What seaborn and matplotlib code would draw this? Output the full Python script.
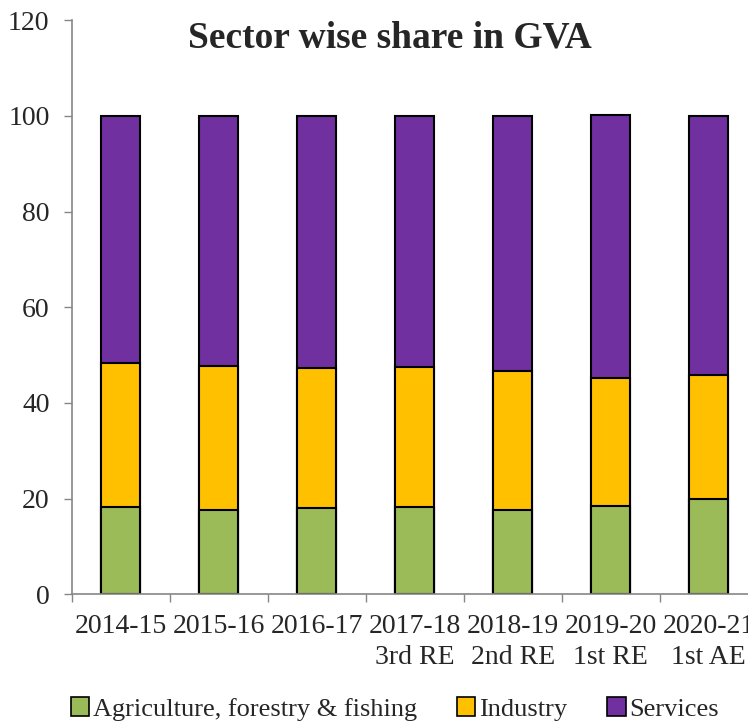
import matplotlib
matplotlib.use("Agg")
import matplotlib.pyplot as plt
import numpy as np
import seaborn as sns
from matplotlib.patches import Patch

years = ["2014-15", "2015-16", "2016-17", "2017-18\n3rd RE", "2018-19\n2nd RE",
         "2019-20\n1st RE", "2020-21\n1st AE"]
agriculture = [18.2, 17.7, 18.0, 18.3, 17.6, 18.4, 20.0]
industry = [30.1, 30.1, 29.3, 29.2, 29.1, 26.8, 25.8]
services = [51.7, 52.2, 52.6, 52.5, 53.3, 55.0, 54.2]
sectors = ["Agriculture, forestry & fishing", "Industry", "Services"]
colors = ["#9BBB59", "#FFC000", "#7030A0"]

sns.set_style("white")
plt.rcParams["font.family"] = ["Liberation Serif", "DejaVu Serif"]

fig = plt.figure(figsize=(7.48, 7.23), dpi=100)
ax = fig.add_axes([0.096, 0.178, 0.917, 0.794])

# stacked bars: draw cumulative totals from the top layer down
stack = np.cumsum(np.array([agriculture, industry, services]), axis=0)
for i in [2, 1, 0]:
    sns.barplot(x=years, y=stack[i], color=colors[i], width=0.4,
                edgecolor="black", linewidth=1.5, ax=ax, saturation=1)

ax.set_ylim(0, 120)
ax.set_xlim(-0.5, 6.5)
ax.set_yticks(range(0, 121, 20))
ax.tick_params(axis="y", labelsize=20, length=6, width=1, color="#868686",
               direction="out", pad=10, left=True)
ax.set_xticks(np.arange(-0.5, 7, 1), minor=True)
ax.tick_params(axis="x", which="major", length=0, labelsize=20, pad=14)
ax.tick_params(axis="x", which="minor", length=6, width=1, color="#868686",
               direction="out", bottom=True)
for lbl in ax.get_xticklabels():
    lbl.set_linespacing(1.35)
for s in ["top", "right"]:
    ax.spines[s].set_visible(False)
for s in ["left", "bottom"]:
    ax.spines[s].set_color("#868686")
    ax.spines[s].set_linewidth(1.2)
ax.grid(False)
ax.set_xlabel("")
ax.set_ylabel("")

fig.text(390 / 748, 1 - 38 / 723, "Sector wise share in GVA", ha="center",
         va="center", fontsize=27, fontweight="bold")

handles = [Patch(facecolor=c, edgecolor="black", linewidth=1.2) for c in colors]
fig.legend(handles, sectors, loc="center", bbox_to_anchor=(395 / 748, 1 - 709 / 723),
           ncol=3, frameon=False, fontsize=19, handlelength=0.7, handleheight=0.7,
           handletextpad=0.15, columnspacing=1.5)

fig.savefig("out.png", dpi=100)
